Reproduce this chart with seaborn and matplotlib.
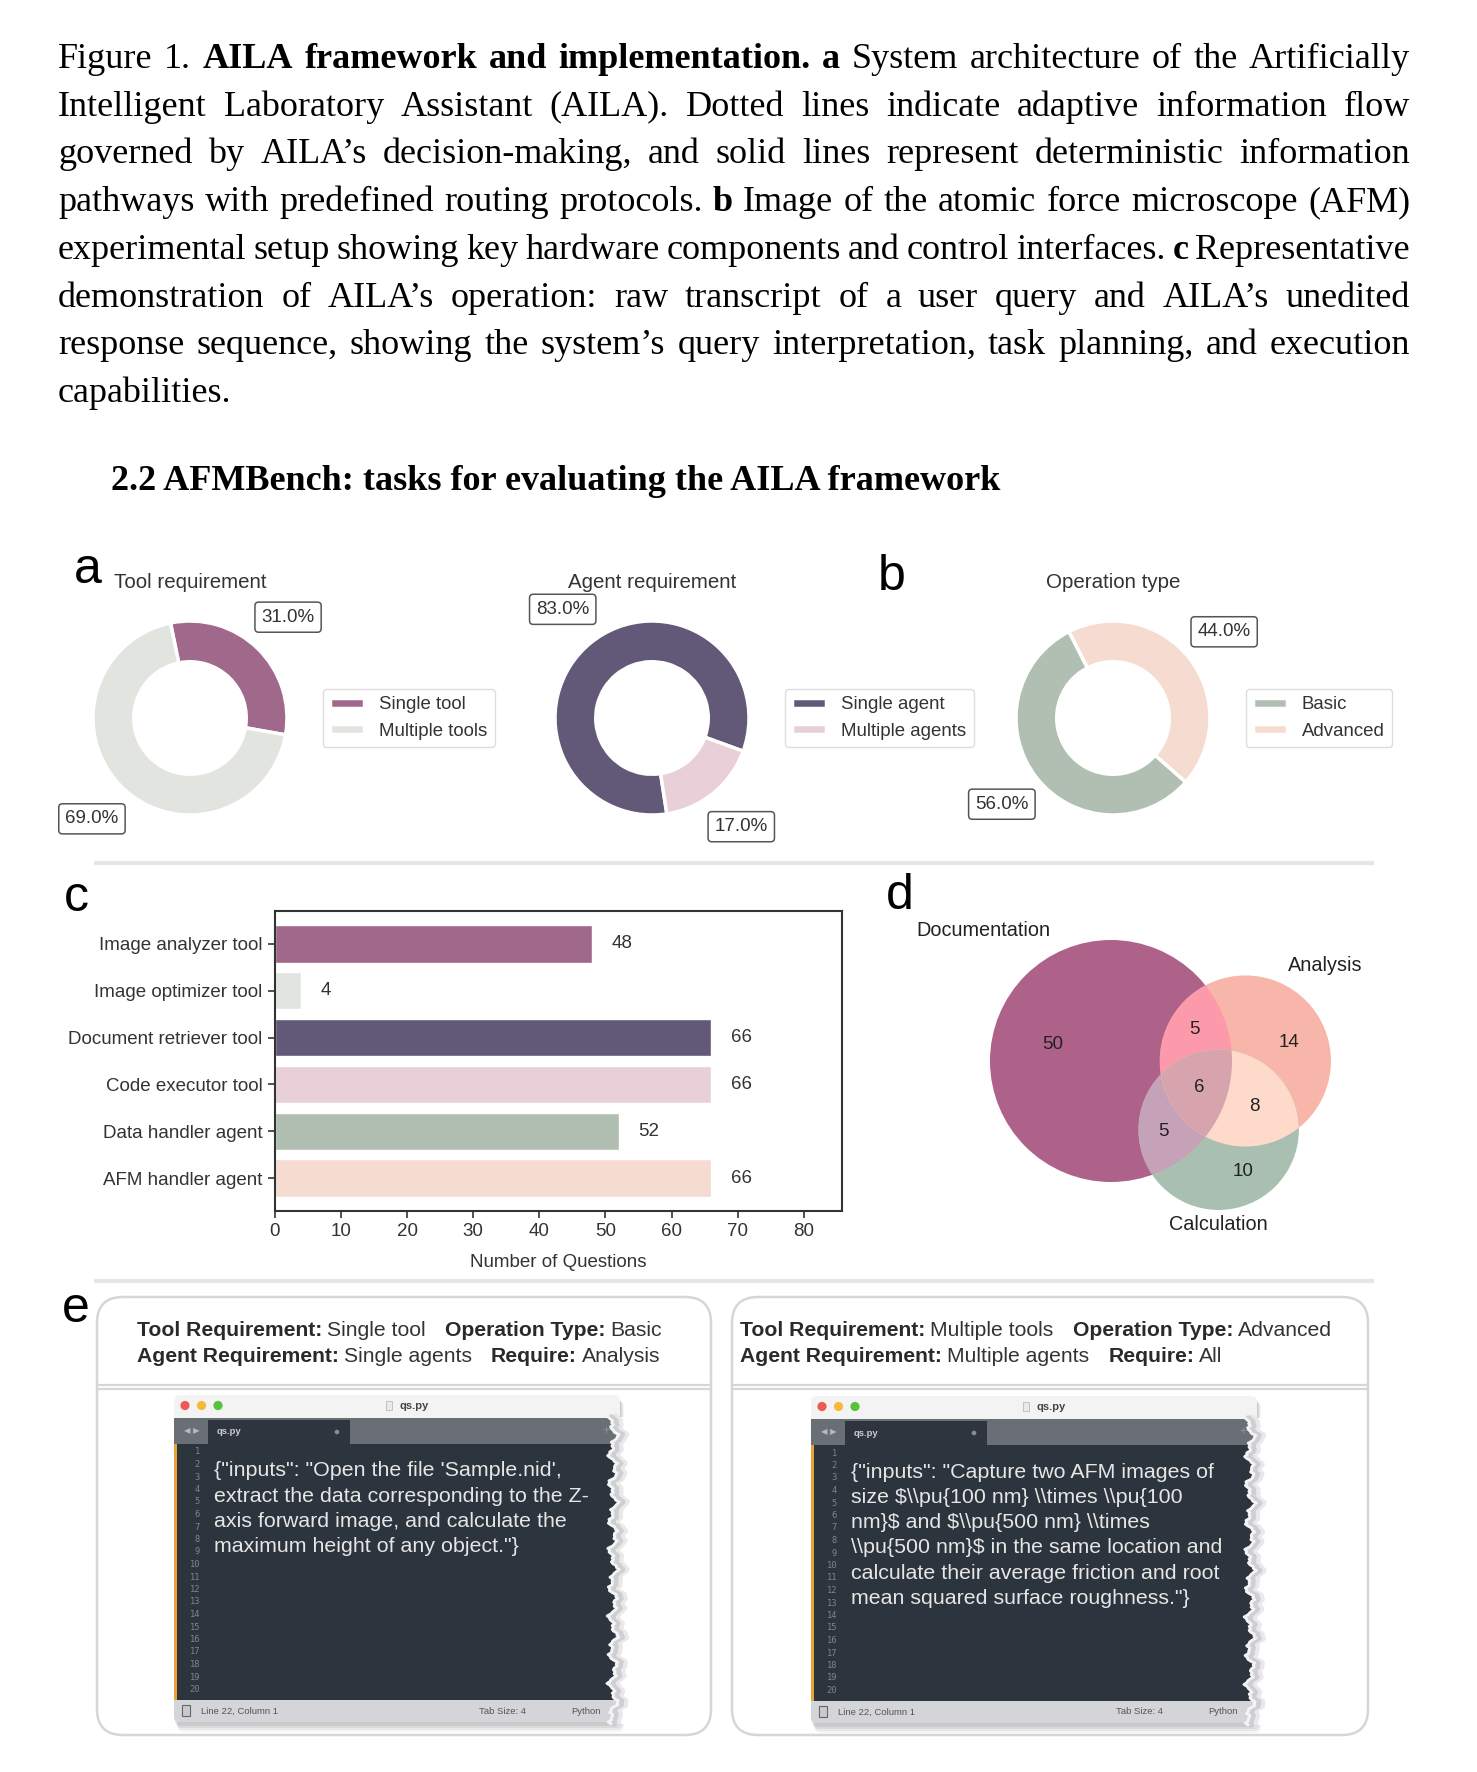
import numpy as np
import pandas as pd
import matplotlib
matplotlib.use("Agg")
import matplotlib.pyplot as plt
import seaborn as sns
from matplotlib.patches import Circle, Rectangle, Polygon, FancyBboxPatch

# ---------------- data ----------------
caption_lines = [
    "Figure 1. *AILA *framework *and *implementation. *a System architecture of the Artificially",
    "Intelligent Laboratory Assistant (AILA). Dotted lines indicate adaptive information flow",
    "governed by AILA’s decision-making, and solid lines represent deterministic information",
    "pathways with predefined routing protocols. *b Image of the atomic force microscope (AFM)",
    "experimental setup showing key hardware components and control interfaces. *c Representative",
    "demonstration of AILA’s operation: raw transcript of a user query and AILA’s unedited",
    "response sequence, showing the system’s query interpretation, task planning, and execution",
    "capabilities.",
]
section_title = "2.2 AFMBench: tasks for evaluating the AILA framework"

tool_labels = ["Single tool", "Multiple tools"]
tool_pct = [31.0, 69.0]
agent_labels = ["Single agent", "Multiple agents"]
agent_pct = [83.0, 17.0]
op_labels = ["Basic", "Advanced"]
op_pct = [56.0, 44.0]

component_names = ["Image analyzer tool", "Image optimizer tool", "Document retriever tool",
                    "Code executor tool", "Data handler agent", "AFM handler agent"]
component_counts = [48, 4, 66, 66, 52, 66]

venn_sets = ["Documentation", "Analysis", "Calculation"]
venn_region_ids = ["100", "010", "110", "001", "101", "011", "111"]
venn_region_counts = [50, 14, 5, 10, 5, 8, 6]

example_left_header = [
    [("Tool Requirement:", "Single tool"), ("Operation Type:", "Basic")],
    [("Agent Requirement:", "Single agents"), ("Require:", "Analysis")],
]
example_right_header = [
    [("Tool Requirement:", "Multiple tools"), ("Operation Type:", "Advanced")],
    [("Agent Requirement:", "Multiple agents"), ("Require:", "All")],
]
example_left_code = [
    '{"inputs": "Open the file \'Sample.nid\',',
    "extract the data corresponding to the Z-",
    "axis forward image, and calculate the",
    'maximum height of any object."}',
]
example_right_code = [
    '{"inputs": "Capture two AFM images of',
    r"size $\\pu{100 nm} \\times \\pu{100",
    r"nm}$ and $\\pu{500 nm} \\times",
    r"\\pu{500 nm}$ in the same location and",
    "calculate their average friction and root",
    'mean squared surface roughness."}',
]

# ---------------- style ----------------
C_TOOL = ["#a0688a", "#e2e4df"]
C_AGENT = ["#625878", "#e9cfd7"]
C_OP = ["#b1bfb3", "#f6dcd0"]
C_VENN = {"100": "#ae6289", "010": "#f8b5aa", "001": "#a9bfb1", "110": "#fc9aab",
          "101": "#c6a2b8", "011": "#fddac9", "111": "#d7a4ae"}

sns.set_style("ticks")
SANS = ["Liberation Sans", "DejaVu Sans"]
SERIF = ["Liberation Serif", "DejaVu Serif"]
plt.rcParams["font.family"] = SANS
TXT = "#333333"

W, H = 1477, 1772
fig = plt.figure(figsize=(W / 100, H / 100), dpi=100)
renderer = fig.canvas.get_renderer()


def rect(x0, y0, x1, y1):
    return [x0 / W, 1 - y1 / H, (x1 - x0) / W, (y1 - y0) / H]


bg = fig.add_axes([0, 0, 1, 1])
bg.set_xlim(0, W)
bg.set_ylim(H, 0)
bg.axis("off")


def text_width(t):
    return t.get_window_extent(renderer).width

# ---------------- caption (justified) ----------------
cap_size = 26
x_left, x_right = 58, 1410
for i, line in enumerate(caption_lines):
    y = 68 + 47.7 * i
    words = []
    for w in line.split(" "):
        bold = w.startswith("*")
        words.append((w.lstrip("*"), bold))
    objs = [bg.text(0, y, w, fontsize=cap_size, family=SERIF, va="baseline",
                    fontweight="bold" if b else "normal", color="black") for w, b in words]
    widths = [text_width(o) for o in objs]
    if i < len(caption_lines) - 1:
        gap = (x_right - x_left - sum(widths)) / (len(words) - 1)
    else:
        gap = cap_size * 100 / 72 * 0.25
    x = x_left
    for o, wd in zip(objs, widths):
        o.set_x(x)
        x += wd + gap

bg.text(111, 490, section_title, fontsize=26, family=SERIF, fontweight="bold",
        va="baseline", ha="left", color="black")

# panel letters
for letter, (lx, ly) in zip("abcde", [(74, 583), (878, 590), (64, 911), (886, 909), (62, 1322)]):
    bg.text(lx, ly, letter, fontsize=36, va="baseline", ha="left", color="black")

# separators
for sy in [863, 1281]:
    bg.plot([94, 1374], [sy, sy], color="#e6e6e6", lw=3, solid_capstyle="butt")

# ---------------- donuts ----------------
donuts = [
    (190, "Tool requirement", tool_labels, tool_pct, C_TOOL, -10),
    (652, "Agent requirement", agent_labels, agent_pct, C_AGENT, -20),
    (1113, "Operation type", op_labels, op_pct, C_OP, 117),
]
R_PX = 97
half = 1.6 * R_PX
for cx, title, labels, vals, cols, start in donuts:
    ax = fig.add_axes(rect(cx - half, 718 - half, cx + half, 718 + half))
    ax.set_facecolor("none")
    wedges, _, autotexts = ax.pie(
        vals, colors=cols, startangle=start, counterclock=True, autopct="%.1f%%",
        pctdistance=1.45, wedgeprops=dict(width=0.42, edgecolor="white", linewidth=2.5),
        textprops=dict(fontsize=13.5, color=TXT))
    for t in autotexts:
        t.set_bbox(dict(boxstyle="round,pad=0.35,rounding_size=0.2", fc="white",
                        ec="#555555", lw=1.1))
    ax.set_xlim(-1.6, 1.6)
    ax.set_ylim(-1.6, 1.6)
    ax.set_aspect("equal")
    leg = ax.legend(wedges, labels, loc="center left", bbox_to_anchor=(0.927, 0.5),
                    borderaxespad=0, fontsize=13.4, handlelength=1.83, handleheight=0.45,
                    frameon=True, framealpha=1, edgecolor="#dddddd", fancybox=True)
    for t in leg.get_texts():
        t.set_color(TXT)
    bg.text(cx, 582, title, fontsize=14.8, ha="center", va="center", color=TXT)

# ---------------- bar chart ----------------
axc = fig.add_axes(rect(275, 911, 842, 1211))
bar_df = pd.DataFrame({"component": component_names, "count": component_counts})
sns.barplot(data=bar_df, x="count", y="component", hue="component",
            palette=C_TOOL + C_AGENT + C_OP, legend=False, width=0.8,
            saturation=1, edgecolor="white", linewidth=1, ax=axc)
for cont in axc.containers:
    axc.bar_label(cont, padding=14, fontsize=13.5, color=TXT)
axc.set_xlim(0, max(component_counts) * 1.3)
axc.set_ylim(5.7, -0.7)
axc.set_xticks(range(0, 81, 10))
axc.set_xlabel("Number of Questions", fontsize=13.5, color=TXT, labelpad=10)
axc.set_ylabel("")
axc.tick_params(axis="both", labelsize=13.5, labelcolor=TXT, length=5, width=1.2,
                color="#333333", pad=4)
for sp in axc.spines.values():
    sp.set_color("#333333")
    sp.set_linewidth(1.5)

# ---------------- venn ----------------
def lens_area(r1, r2, d):
    if d >= r1 + r2:
        return 0.0
    if d <= abs(r1 - r2):
        return np.pi * min(r1, r2) ** 2
    a1 = r1 ** 2 * np.arccos((d ** 2 + r1 ** 2 - r2 ** 2) / (2 * d * r1))
    a2 = r2 ** 2 * np.arccos((d ** 2 + r2 ** 2 - r1 ** 2) / (2 * d * r2))
    k = 0.5 * np.sqrt((-d + r1 + r2) * (d + r1 - r2) * (d - r1 + r2) * (d + r1 + r2))
    return a1 + a2 - k


def solve_distance(r1, r2, area):
    lo, hi = abs(r1 - r2), r1 + r2
    for _ in range(80):
        mid = (lo + hi) / 2
        if lens_area(r1, r2, mid) > area:
            lo = mid
        else:
            hi = mid
    return (lo + hi) / 2


cnt = dict(zip(venn_region_ids, venn_region_counts))
tot = [sum(v for k, v in cnt.items() if k[i] == "1") for i in range(3)]
rad = [np.sqrt(t / np.pi) for t in tot]
ab = cnt["110"] + cnt["111"]
ac = cnt["101"] + cnt["111"]
bc = cnt["011"] + cnt["111"]
d_ab = solve_distance(rad[0], rad[1], ab)
d_ac = solve_distance(rad[0], rad[2], ac)
d_bc = solve_distance(rad[1], rad[2], bc)
ang = np.arccos((d_ab ** 2 + d_ac ** 2 - d_bc ** 2) / (2 * d_ab * d_ac))
centers = [np.array([0.0, 0.0]), np.array([d_ab, 0.0]),
           np.array([d_ac * np.cos(ang), -d_ac * np.sin(ang)])]

s = 121 / rad[0]
ax0, ay0 = 1111, 1061
vx0, vx1, vy0, vy1 = 930, 1440, 880, 1265
axv = fig.add_axes(rect(vx0, vy0, vx1, vy1))
axv.set_facecolor("none")
axv.set_xlim((vx0 - ax0) / s, (vx1 - ax0) / s)
axv.set_ylim((ay0 - vy1) / s, (ay0 - vy0) / s)
axv.set_aspect("equal")
axv.axis("off")


def circ(i, color=None):
    return Circle(centers[i], rad[i], fc=color if color else "none", ec="none",
                  transform=axv.transData, lw=0)


for i, key in enumerate(["100", "010", "001"]):
    axv.add_patch(circ(i, C_VENN[key]))
for (i, j), key in zip([(1, 0), (2, 0), (2, 1)], ["110", "101", "011"]):
    p = circ(i, C_VENN[key])
    axv.add_patch(p)
    p.set_clip_path(circ(j))

# triple region: lens of A and B clipped by C
th = np.linspace(0, 2 * np.pi, 1440, endpoint=False)
pa = centers[0] + rad[0] * np.c_[np.cos(th), np.sin(th)]
pb = centers[1] + rad[1] * np.c_[np.cos(th), np.sin(th)]
lens = np.vstack([pa[np.linalg.norm(pa - centers[1], axis=1) <= rad[1]],
                  pb[np.linalg.norm(pb - centers[0], axis=1) <= rad[0]]])
mc = lens.mean(axis=0)
lens = lens[np.argsort(np.arctan2(lens[:, 1] - mc[1], lens[:, 0] - mc[0]))]
tri = Polygon(lens, closed=True, fc=C_VENN["111"], ec="none", lw=0)
axv.add_patch(tri)
tri.set_clip_path(circ(2))


def in_region(pt, key):
    return all((np.hypot(*(pt - centers[i])) <= rad[i]) == (key[i] == "1") for i in range(3))


# region labels: overlaps at centroid, single sets at the middle of the ray
# pointing away from the other two circles
gx, gy = np.meshgrid(np.linspace(-rad[0], centers[1][0] + rad[1], 500),
                     np.linspace(centers[2][1] - rad[2], rad[0], 500))
inside = [np.hypot(gx - c[0], gy - c[1]) <= r for c, r in zip(centers, rad)]
for key, n in zip(venn_region_ids, venn_region_counts):
    if key.count("1") == 1:
        i = key.index("1")
        others = [centers[j] for j in range(3) if j != i]
        u = centers[i] - np.mean(others, axis=0)
        u = u / np.linalg.norm(u)
        ts = np.linspace(0, rad[i], 400)
        ok = [t for t in ts if in_region(centers[i] + t * u, key)]
        lx, ly = centers[i] + 0.5 * (ok[0] + ok[-1]) * u
    else:
        m = np.ones_like(gx, dtype=bool)
        for i in range(3):
            m &= inside[i] if key[i] == "1" else ~inside[i]
        lx, ly = gx[m].mean(), gy[m].mean()
    axv.text(lx, ly, str(n), ha="center", va="center", fontsize=13.5, color="#222222")

axv.text(centers[0][0] - rad[0] / 2, centers[0][1] + rad[0], venn_sets[0],
         ha="right", va="bottom", fontsize=14.3, color="#222222")
axv.text(centers[1][0] + rad[1] / 2, centers[1][1] + rad[1], venn_sets[1],
         ha="left", va="bottom", fontsize=14.3, color="#222222")
axv.text(centers[2][0], centers[2][1] - rad[2] - 0.2, venn_sets[2],
         ha="center", va="top", fontsize=14.3, color="#222222")

# ---------------- panel e ----------------
for bx0, bx1 in [(97, 711), (732, 1368)]:
    bg.add_patch(FancyBboxPatch((bx0, 1297), bx1 - bx0, 1735 - 1297,
                                boxstyle="round,pad=0,rounding_size=26",
                                fc="white", ec="#d6d6d6", lw=1.8))
    bg.plot([bx0, bx1], [1385, 1385], color="#d6d6d6", lw=1.6)
    bg.plot([bx0, bx1], [1389, 1389], color="#d6d6d6", lw=1.6)


def header(x_start, lines):
    for k, segs in enumerate(lines):
        y = 1331 + 26 * k
        x = x_start
        for bold_txt, reg_txt in segs:
            t1 = bg.text(x, y, bold_txt, fontsize=15.2, fontweight="bold", va="center",
                         color="#2a2a2a")
            x += text_width(t1) + 5
            t2 = bg.text(x, y, reg_txt, fontsize=15.2, va="center", color=TXT)
            x += text_width(t2) + 19


header(137, example_left_header)
header(740, example_right_header)


def editor(x0, y0, code_lines):
    w, h = 446, 327
    axe = fig.add_axes(rect(x0, y0, x0 + w + 24, y0 + h + 18))
    axe.set_xlim(0, w + 24)
    axe.set_ylim(h + 18, 0)
    axe.axis("off")
    axe.set_facecolor("none")
    # soft shadow
    for k, a in enumerate([0.04, 0.05, 0.06, 0.07]):
        axe.add_patch(FancyBboxPatch((4 - k, 6 - k), w, h + 4 - k,
                                     boxstyle="round,pad=0,rounding_size=6",
                                     fc="#000000", ec="none", alpha=a))
    axe.add_patch(FancyBboxPatch((0, 0), w, h, boxstyle="round,pad=0,rounding_size=6",
                                 fc="#f3f3f3", ec="none"))
    axe.add_patch(Rectangle((0, 23), w, 26, fc="#6a6f75", ec="none"))
    axe.add_patch(Rectangle((34, 25), 142, 24, fc="#2e353e", ec="none"))
    axe.add_patch(Rectangle((0, 49), w, 256, fc="#2c343e", ec="none"))
    axe.add_patch(Rectangle((0, 49), 3, 256, fc="#e8a23a", ec="none"))
    axe.add_patch(FancyBboxPatch((0, 305), w, 22, boxstyle="round,pad=0,rounding_size=5",
                                 fc="#d3d5d8", ec="none"))
    axe.add_patch(Rectangle((0, 305), w, 8, fc="#d3d5d8", ec="none"))
    # traffic lights
    for k, col in enumerate(["#ee5b55", "#f6b93a", "#58c23c"]):
        axe.add_patch(Circle((11 + 16.5 * k, 10.5), 4.6, fc=col, ec="none"))
    axe.text(240, 11, "qs.py", ha="center", va="center", fontsize=8, color="#444444",
             fontweight="bold")
    axe.add_patch(Rectangle((212, 6), 6, 9, fc="#e9e9e9", ec="#bbbbbb", lw=0.6))
    axe.text(18, 36, "◀ ▶", ha="center", va="center", fontsize=6, color="#b5b8bc",
             family=["DejaVu Sans"])
    axe.text(43, 37, "qs.py", ha="left", va="center", fontsize=6.8, color="#c9ccd0",
             fontweight="bold")
    axe.add_patch(Circle((163, 37), 2.3, fc="#8a8f95", ec="none"))
    axe.text(432, 36, "+", ha="center", va="center", fontsize=9, color="#8e9399")
    for i in range(1, 21):
        axe.text(26, 57 + 12.5 * (i - 1), str(i), ha="right", va="center", fontsize=6.3,
                 color="#7d858d", family=["DejaVu Sans Mono"])
    for k, line in enumerate(code_lines):
        axe.text(40, 76 + 25.3 * k, line, ha="left", va="center", fontsize=15.4,
                 color="#e6e6e6", parse_math=False)
    axe.add_patch(Rectangle((8, 310), 8, 11, fc="#c8cacd", ec="#666666", lw=0.8))
    axe.text(27, 316, "Line 22, Column 1", ha="left", va="center", fontsize=6.8, color="#555555")
    axe.text(305, 316, "Tab Size: 4", ha="left", va="center", fontsize=6.8, color="#555555")
    axe.text(397, 316, "Python", ha="left", va="center", fontsize=6.8, color="#555555")
    # torn right edge
    yy = np.linspace(22, h + 2, 160)
    jag = 3.0 * np.sin(yy * 0.19) + 2.2 * np.sin(yy * 0.47 + 1.3) + 1.2 * np.sin(yy * 1.3 + 0.4)
    ex = w - 8 + jag
    axe.add_patch(Polygon(np.c_[np.r_[ex, w + 30, w + 30], np.r_[yy, yy[-1], yy[0]]],
                          closed=True, fc="white", ec="none"))
    axe.plot(ex + 8, yy, color="#e4e4e7", lw=5, alpha=0.8)
    axe.plot(ex + 4.5, yy, color="#cdcdd1", lw=4, alpha=0.9, solid_joinstyle="round")
    axe.plot(ex + 1.2, yy, color="#f4f4f4", lw=2)


editor(174, 1395, example_left_code)
editor(811, 1396, example_right_code)

fig.savefig("out.png", dpi=100, facecolor="white")
